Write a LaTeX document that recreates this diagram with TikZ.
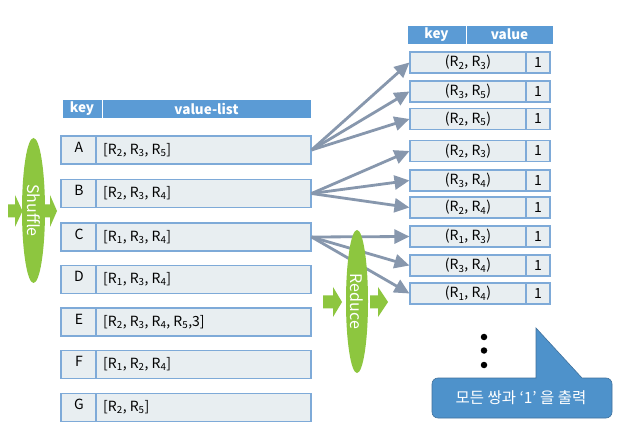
\documentclass[tikz,border=0pt]{standalone}
\usepackage{fontspec}
\setmainfont{Noto Sans CJK KR}
\usetikzlibrary{arrows.meta,shapes.geometric}
\definecolor{hdr}{HTML}{5B9BD5}
\definecolor{cellfill}{HTML}{E8EEF1}
\definecolor{cellline}{HTML}{7EAAD8}
\definecolor{arr}{HTML}{8797AD}
\definecolor{grn}{HTML}{8DC63F}
\definecolor{call}{HTML}{4E92CB}
\definecolor{calldk}{HTML}{41719C}
\newcommand\Rx[1]{R\textsubscript{#1}}
\tikzset{
  hdrcell/.style={rectangle, fill=hdr, draw=white, line width=0.7pt, text=white, inner sep=0pt,
    font=\fontsize{13.5}{15}\selectfont\bfseries},
  rowbox/.style={rectangle, fill=cellfill, draw=cellline, line width=1.1pt, inner sep=0pt},
  divline/.style={draw=cellline, line width=1.1pt},
  keytxt/.style={inner sep=0pt, font=\fontsize{14}{15}\selectfont},
  valtxt/.style={inner sep=0pt, anchor=west, font=\fontsize{14}{15}\selectfont},
  rtxt/.style={inner sep=0pt, font=\fontsize{14}{15}\selectfont},
  conn/.style={draw=arr, line width=2.8pt, -{Triangle[length=15pt,width=14pt]}},
  greenell/.style={ellipse, fill=grn, inner sep=0pt, text=white, rotate=-90,
    font=\fontsize{16}{18}\selectfont},
  dotnode/.style={circle, fill=black, inner sep=0pt, minimum size=6.5pt},
}
\newcommand\garrow[6]{% x0, xmid, xtip, y, half head, half body
  \fill[grn] (#1,#4-#6) -- (#2,#4-#6) -- (#2,#4-#5) -- (#3,#4) -- (#2,#4+#5) -- (#2,#4+#6) -- (#1,#4+#6) -- cycle;}
\begin{document}
\begin{tikzpicture}[x=1pt,y=-1pt]
\useasboundingbox (0,0) rectangle (626,443);
\fill[white] (0,0) rectangle (626,443);

% left header
\node[hdrcell, minimum width=40pt, minimum height=19pt] (hk) at (82,108.5) {key};
\node[hdrcell, minimum width=209pt, minimum height=19pt] (hv) at (206.5,108.5) {value-list};

% left rows
\foreach \n/\yy/\v in {
  A/150/{[\Rx2, \Rx3, \Rx5]},
  B/193.5/{[\Rx2, \Rx3, \Rx4]},
  C/237/{[\Rx1, \Rx3, \Rx4]},
  D/279.5/{[\Rx1, \Rx3, \Rx4]},
  E/322/{[\Rx2, \Rx3, \Rx4, \Rx5,3]},
  F/364.5/{[\Rx1, \Rx2, \Rx4]},
  G/407.5/{[\Rx2, \Rx5]}} {
  \node[rowbox, minimum width=250pt, minimum height=28pt] (\n) at (186,\yy) {};
  \draw[divline] (96,\yy-14) -- (96,\yy+14);
  \node[keytxt] (k\n) at (79,\yy-3) {\n};
  \node[valtxt] (v\n) at (103,\yy) {\v};
}

% right header
\node[hdrcell, minimum width=59pt, minimum height=19pt] (rhk) at (436.5,34.5) {key};
\node[hdrcell, minimum width=87pt, minimum height=19pt] (rhv) at (509.5,34.5) {value};

% right rows
\foreach \n/\yy/\v in {
  r1/62.5/{(\Rx2, \Rx3)},
  r2/91.5/{(\Rx3, \Rx5)},
  r3/119/{(\Rx2, \Rx5)},
  r4/151/{(\Rx2, \Rx3)},
  r5/180.5/{(\Rx3, \Rx4)},
  r6/207.5/{(\Rx2, \Rx4)},
  r7/236.5/{(\Rx1, \Rx3)},
  r8/265.5/{(\Rx3, \Rx4)},
  r9/293.5/{(\Rx1, \Rx4)}} {
  \node[rowbox, minimum width=140pt, minimum height=21pt] (\n) at (480,\yy) {};
  \draw[divline] (526,\yy-10.5) -- (526,\yy+10.5);
  \node[rtxt] (k\n) at (468,\yy) {\v};
  \node[rtxt] (v\n) at (538,\yy) {1};
}

% connectors
\draw[conn] (A.east) -- (r1.west);
\draw[conn] (A.east) -- (r2.west);
\draw[conn] (A.east) -- (r3.west);
\draw[conn] (B.east) -- (r4.west);
\draw[conn] (B.east) -- (r5.west);
\draw[conn] (B.east) -- (r6.west);
\draw[conn] (C.east) -- (r7.west);
\draw[conn] (C.east) -- (r8.west);
\draw[conn] (C.east) -- (r9.west);

% shuffle
\garrow{8}{15}{22.5}{211}{16}{6.5}
\garrow{45}{50}{57}{211}{16}{6.5}
\node[greenell, minimum width=145pt, minimum height=23pt] (shuf) at (33.5,210.5) {Shuffle};

% reduce
\garrow{323}{333}{342}{302}{15}{6.5}
\garrow{370}{378}{388}{302}{15}{6.5}
\node[greenell, minimum width=143pt, minimum height=22pt] (red) at (357,301.5) {Reduce};

% dots
\node[dotnode] (d1) at (484,337) {};
\node[dotnode] (d2) at (484,350.5) {};
\node[dotnode] (d3) at (484,365) {};

% callout
\path[fill=call, draw=calldk, line width=0.6pt] (536,378) -- (536,328) -- (582,378)
  [rounded corners=6pt] -- (612,378) -- (612,418) -- (432,418) -- (432,378) [sharp corners] -- cycle;
\node[text=white, inner sep=0pt, font=\fontsize{15.5}{17}\selectfont] (callt) at (521,398) {모든 쌍과 ‘1’ 을 출력};
\end{tikzpicture}
\end{document}
